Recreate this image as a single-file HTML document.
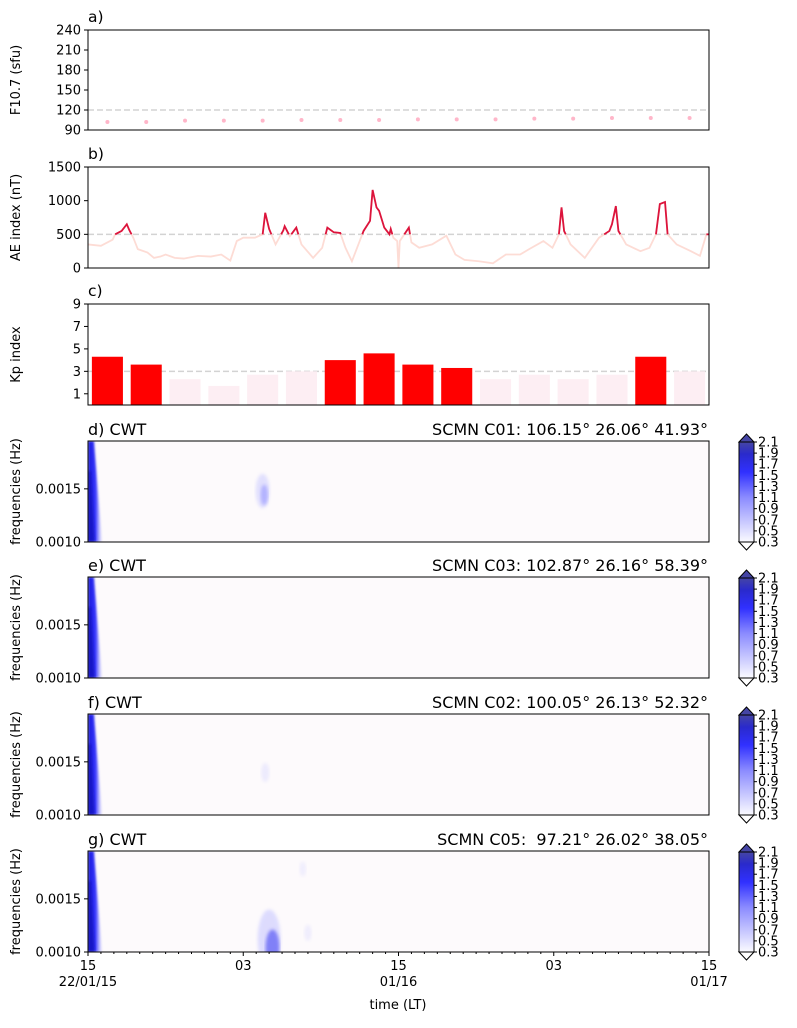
<!DOCTYPE html>
<html><head><meta charset="utf-8"><style>
body{margin:0;background:#fff;}
svg{font-family:"DejaVu Sans","Liberation Sans",sans-serif;}
</style></head><body>
<svg id="fig" width="797" height="1023" viewBox="0 0 797 1023" xmlns="http://www.w3.org/2000/svg">
<defs>
<filter id="blur1"><feGaussianBlur stdDeviation="1"/></filter>
<filter id="blur2"><feGaussianBlur stdDeviation="1.5"/></filter>
<linearGradient id="edge" x1="0" y1="0" x2="1" y2="0">
<stop offset="0" stop-color="#1a1ad8"/><stop offset="0.55" stop-color="#3535ff"/><stop offset="1" stop-color="#c8c8ff" stop-opacity="0.3"/></linearGradient>
<linearGradient id="cbg" x1="0" y1="1" x2="0" y2="0">
<stop offset="0" stop-color="#fbfbff"/><stop offset="0.45" stop-color="#8a8aff"/><stop offset="0.7" stop-color="#3030ff"/><stop offset="0.88" stop-color="#2a2acc"/><stop offset="1" stop-color="#4545a5"/></linearGradient>
</defs>
</svg>
<script>
// ---- data ----
const f107Hours=[1.5,4.5,7.5,10.5,13.5,16.5,19.5,22.5,25.5,28.5,31.5,34.5,37.5,40.5,43.5,46.5];
const f107Values=[102,102,104,104,104,105,105,105,106,106,106,107,107,108,108,108];
const kpValues=[4.3,3.6,2.3,1.7,2.7,3.0,4.0,4.6,3.6,3.3,2.3,2.7,2.3,2.7,4.3,3.0];
const aeHours=[0,1,1.9,2.1,2.6,3,3.2,3.5,3.85,4.6,5.1,5.6,6,6.7,7.4,8.5,9.5,10.3,11,11.5,12,12.9,13.5,13.7,14,14.5,15.1,15.2,15.6,16.1,16.5,17.4,18.1,18.5,19,19.5,19.9,20.4,20.8,21.3,21.8,22,22.3,22.5,22.9,23.3,23.4,23.6,23.9,24,24.1,24.8,25,25.6,26.6,27.7,28.4,29.1,30.2,31.3,32.3,33.4,34.1,35.2,35.9,36.4,36.6,36.8,37.3,38.4,39.5,40.3,40.5,40.8,41,41.6,42.7,43.4,43.9,44.2,44.6,44.8,45.5,46.6,47.3,47.8,48];
const aeValues=[350,330,420,500,550,650,560,450,280,230,150,170,200,150,140,180,170,200,110,400,450,450,500,820,580,350,560,620,470,600,350,150,300,600,530,520,300,100,300,550,700,1160,900,850,600,500,580,450,400,0,400,600,380,300,350,480,200,120,100,70,200,200,280,400,300,500,900,550,350,150,450,550,650,920,550,350,250,300,500,950,980,500,350,250,180,500,500];
const xTickHours=[0,12,24,36,48];
const xTickLabels=[["15","22/01/15"],["03",""],["15","01/16"],["03",""],["15","01/17"]];
const cbLevels=[0.3,0.5,0.7,0.9,1.1,1.3,1.5,1.7,1.9,2.1];
const cwtTitles=[["d) CWT","SCMN C01: 106.15° 26.06° 41.93°"],["e) CWT","SCMN C03: 102.87° 26.16° 58.39°"],["f) CWT","SCMN C02: 100.05° 26.13° 52.32°"],["g) CWT","SCMN C05: \u00a097.21° 26.02° 38.05°"]];
// blobs: [hour, freq(mHz), power]
const cwtBlobs=[[[13.5,1.48,0.8]],[],[[13.7,1.40,0.25]],[[14.0,1.12,1.7],[16.6,1.78,0.1],[17.0,1.18,0.15]]];

const S=document.getElementById('fig');const NS='http://www.w3.org/2000/svg';
function el(t,a,p){const e=document.createElementNS(NS,t);for(const k in a)e.setAttribute(k,a[k]);(p||S).appendChild(e);return e;}
function txt(x,y,s,a,p){const e=el('text',Object.assign({x:x,y:y,'font-size':13,fill:'#000'},a||{}),p);e.textContent=s;return e;}
const L=88,R=709;const xs=h=>L+(R-L)*h/48;
function ylin(v,v0,v1,top,bot){return bot-(v-v0)/(v1-v0)*(bot-top);}
function frame(top,bot,name){const r=el('rect',{x:L,y:top,width:R-L,height:bot-top,fill:'none',stroke:'#000','stroke-width':1});}
function yticks(vals,labels,f,g){vals.forEach((v,i)=>{const y=f(v);el('line',{x1:L-4,x2:L,y1:y,y2:y,stroke:'#000'},g);txt(L-7,y+4.5,labels[i],{'text-anchor':'end'},g);});}
function ylabel(text,top,bot,name){const t=txt(0,0,text,{transform:`translate(20,${(top+bot)/2}) rotate(-90)`,'text-anchor':'middle'});}

// ---- panel a ----
{const top=30,bot=130,f=v=>ylin(v,90,240,top,bot);
const g=el('g',{});
el('line',{x1:L,x2:R,y1:f(120),y2:f(120),stroke:'#d3d3d3','stroke-width':1.5,'stroke-dasharray':'6,3'},g);
f107Hours.forEach((h,i)=>{const c=el('circle',{cx:xs(h),cy:f(f107Values[i]),r:2,fill:'#ffb6c9'},g);});
yticks([90,120,150,180,210,240],['90','120','150','180','210','240'],f,g);
frame(top,bot,'f107-axes');txt(88,22,'a)',{'font-size':15.5});ylabel('F10.7 (sfu)',top,bot,'f107-y-title');}

// ---- panel b ----
{const top=167,bot=268,f=v=>ylin(v,0,1500,top,bot);
const g=el('g',{});
el('line',{x1:L,x2:R,y1:f(500),y2:f(500),stroke:'#d3d3d3','stroke-width':1.5,'stroke-dasharray':'6,3'},g);
const pts=aeHours.map((h,i)=>xs(h)+','+f(aeValues[i])).join(' ');
const pl=el('polyline',{points:pts,fill:'none',stroke:'#fddcd5','stroke-width':1.8},g);

let segs=[],cur=[];
for(let i=0;i<aeHours.length-1;i++){const h0=aeHours[i],h1=aeHours[i+1],v0=aeValues[i],v1=aeValues[i+1];
 if(v0<500&&v1<500){if(cur.length){segs.push(cur);cur=[];}continue;}
 let a=[h0,v0],b=[h1,v1];
 if(v0<500){const t=(500-v0)/(v1-v0);a=[h0+t*(h1-h0),500];}
 if(v1<500){const t=(500-v0)/(v1-v0);b=[h0+t*(h1-h0),500];}
 if(!cur.length)cur.push(a);cur.push(b);
 if(v1<500){segs.push(cur);cur=[];}}
if(cur.length)segs.push(cur);
segs.forEach(s=>{const p=el('polyline',{points:s.map(q=>xs(q[0])+','+f(q[1])).join(' '),fill:'none',stroke:'#dc143c','stroke-width':1.8},g);});
yticks([0,500,1000,1500],['0','500','1000','1500'],f,g);
frame(top,bot,'ae-axes');txt(88,159,'b)',{'font-size':15.5});ylabel('AE index (nT)',top,bot,'ae-y-title');}

// ---- panel c ----
{const top=304,bot=405,f=v=>ylin(v,0,9,top,bot);
const g=el('g',{});
el('line',{x1:L,x2:R,y1:f(3),y2:f(3),stroke:'#d3d3d3','stroke-width':1.5,'stroke-dasharray':'6,3'},g);
const slot=(R-L)/16;
kpValues.forEach((v,i)=>{const x=L+slot*i+slot*0.1,w=slot*0.8;const r=el('rect',{x:x,y:f(v),width:w,height:bot-f(v),fill:v>=3.3?'#ff0000':'#fdeef3'},g);});
yticks([1,3,5,7,9],['1','3','5','7','9'],f,g);
frame(top,bot,'kp-axes');txt(88,296,'c)',{'font-size':15.5});ylabel('Kp index',top,bot,'kp-y-title');}

// ---- CWT panels ----
const tops=[441,577,714,851];
tops.forEach((top,k)=>{const bot=top+101;const f=v=>ylin(v,1.0,1.95,top,bot);
const g=el('g',{});
el('rect',{x:L,y:top,width:R-L,height:bot-top,fill:'#fdfafc'},g);
const cp=el('clipPath',{id:'cp'+k},g);el('rect',{x:L,y:top,width:R-L,height:bot-top},cp);
const inner=el('g',{'clip-path':`url(#cp${k})`},g);
el('path',{d:`M${L},${top} L${L+6},${top} L${L+9},${top+40} L${L+14},${bot} L${L},${bot} Z`,fill:'url(#edge)',filter:'url(#blur1)'},inner);
el('path',{d:`M${L},${top+30} L${L+3},${top+30} L${L+7},${bot} L${L},${bot} Z`,fill:'#1010b0',opacity:0.6,filter:'url(#blur1)'},inner);
cwtBlobs[k].forEach(b=>{const cx=xs(b[0]),cy=f(b[1]),p=b[2];
 const e1=el('ellipse',{cx:cx,cy:cy,rx:3+p*5,ry:6+p*14,fill:'#c8c8ff',opacity:Math.min(0.6,0.2+p*0.4),filter:'url(#blur2)'},inner);
 
 if(p>0.5)el('ellipse',{cx:cx+p*2,cy:cy+p*5,rx:1+p*3.5,ry:3+p*9,fill:p>1.2?'#5a5af5':'#a0a0ff',opacity:0.7,filter:'url(#blur2)'},inner);});
yticks([1.0,1.5],['0.0010','0.0015'],f,g);
frame(top,bot,'cwt-axes-'+'defg'[k]);
txt(88,top-6,cwtTitles[k][0],{'font-size':16});txt(708,top-6,cwtTitles[k][1],{'font-size':16,'text-anchor':'end'});
ylabel('frequencies (Hz)',top,bot,'cwt-y-title');
// colorbar
const cx=739,cw=15,ct=top+1,cb=bot;const cg=el('g',{});
el('rect',{x:cx,y:ct,width:cw,height:cb-ct,fill:'url(#cbg)'},cg);
el('path',{d:`M${cx},${ct} L${cx+cw/2},${ct-8} L${cx+cw},${ct} Z`,fill:'#4545a5',stroke:'#000'},cg);
el('path',{d:`M${cx},${cb} L${cx+cw/2},${cb+8} L${cx+cw},${cb} Z`,fill:'#fff',stroke:'#000'},cg);
el('rect',{x:cx,y:ct,width:cw,height:cb-ct,fill:'none',stroke:'#000'},cg);
cbLevels.forEach(v=>{const y=cb-(v-0.3)/1.8*(cb-ct);el('line',{x1:cx+cw,x2:cx+cw+3,y1:y,y2:y,stroke:'#000'},cg);txt(cx+cw+4,y+4.5,v.toFixed(1),{},cg);});
});

// ---- x axis ----
{const bot=952;const g=el('g',{});
for(let h=0;h<=48;h++){el('line',{x1:xs(h),x2:xs(h),y1:bot,y2:bot+(h%12?2:4),stroke:'#000'},g);}
xTickHours.forEach((h,i)=>{txt(xs(h),bot+18,xTickLabels[i][0],{'text-anchor':'middle'},g);if(xTickLabels[i][1])txt(xs(h),bot+34,xTickLabels[i][1],{'text-anchor':'middle'},g);});
const t=txt(398,1009,'time (LT)',{'text-anchor':'middle'});}
</script>
</body></html>
